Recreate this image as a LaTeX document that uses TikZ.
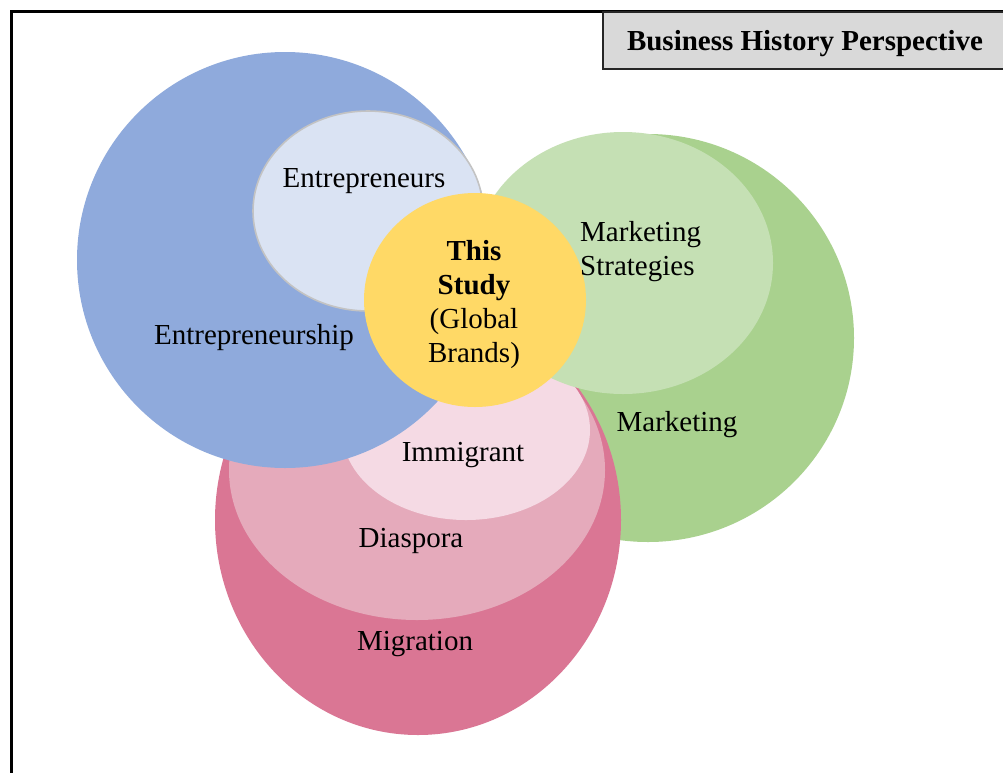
\documentclass[tikz,border=0pt]{standalone}
\usepackage{fontspec}
\setmainfont{Liberation Serif}
\definecolor{bluebig}{RGB}{143,170,220}
\definecolor{bluelight}{RGB}{218,227,243}
\definecolor{ringgray}{RGB}{195,195,195}
\definecolor{yellowc}{RGB}{255,217,102}
\definecolor{greenlight}{RGB}{197,224,180}
\definecolor{greendark}{RGB}{169,209,142}
\definecolor{pinklight}{RGB}{245,218,228}
\definecolor{pinkmid}{RGB}{229,170,187}
\definecolor{pinkdark}{RGB}{218,118,148}
\definecolor{boxgray}{RGB}{217,217,217}
\begin{document}
\begin{tikzpicture}[x=1pt,y=-1pt,
  lbl/.style={font=\fontsize{29}{34}\selectfont, inner sep=0pt, text=black},
  lblb/.style={lbl, font=\fontsize{29}{34}\selectfont\bfseries}]
\clip (0,0) rectangle (1003,772);
\fill[white] (0,0) rectangle (1003,772);
% frame
\draw[line width=3pt] (11,11) rectangle (1040,800);
% title box
\draw[fill=boxgray, draw=black!85, line width=1.6pt] (603,12) rectangle (1030,69);
\node[lblb] (title) at (805,44) {Business History Perspective};
% shapes, back to front
\fill[greendark] (648,338) ellipse [x radius=206pt, y radius=204pt];
\fill[pinkdark] (418,520) ellipse [x radius=203pt, y radius=215pt];
\fill[pinkmid] (417,470) ellipse [x radius=188pt, y radius=150pt];
\fill[pinklight] (466,430) ellipse [x radius=124pt, y radius=90pt];
\fill[greenlight] (623,263) ellipse [x radius=150pt, y radius=131pt];
\fill[bluebig] (285,260) circle [radius=208pt];
\filldraw[fill=bluelight, draw=ringgray, line width=1.6pt] (368,211) ellipse [x radius=115pt, y radius=100pt];
\fill[yellowc] (475,300) ellipse [x radius=111pt, y radius=107pt];
% labels
\node[lbl] (entrs) at (364,181) {Entrepreneurs};
\node[lbl] (entship) at (254,338) {Entrepreneurship};
\node[lbl, align=left, anchor=north west] (mstrat) at (580,221) {Marketing\\Strategies};
\node[lbl] (mkt) at (677,425) {Marketing};
\node[lbl] (immig) at (463,455) {Immigrant};
\node[lbl] (diasp) at (411,541) {Diaspora};
\node[lbl] (migr) at (415,644) {Migration};
\node[lbl, align=center] (study) at (474,305) {\textbf{This}\\\textbf{Study}\\(Global\\Brands)};
\end{tikzpicture}
\end{document}
